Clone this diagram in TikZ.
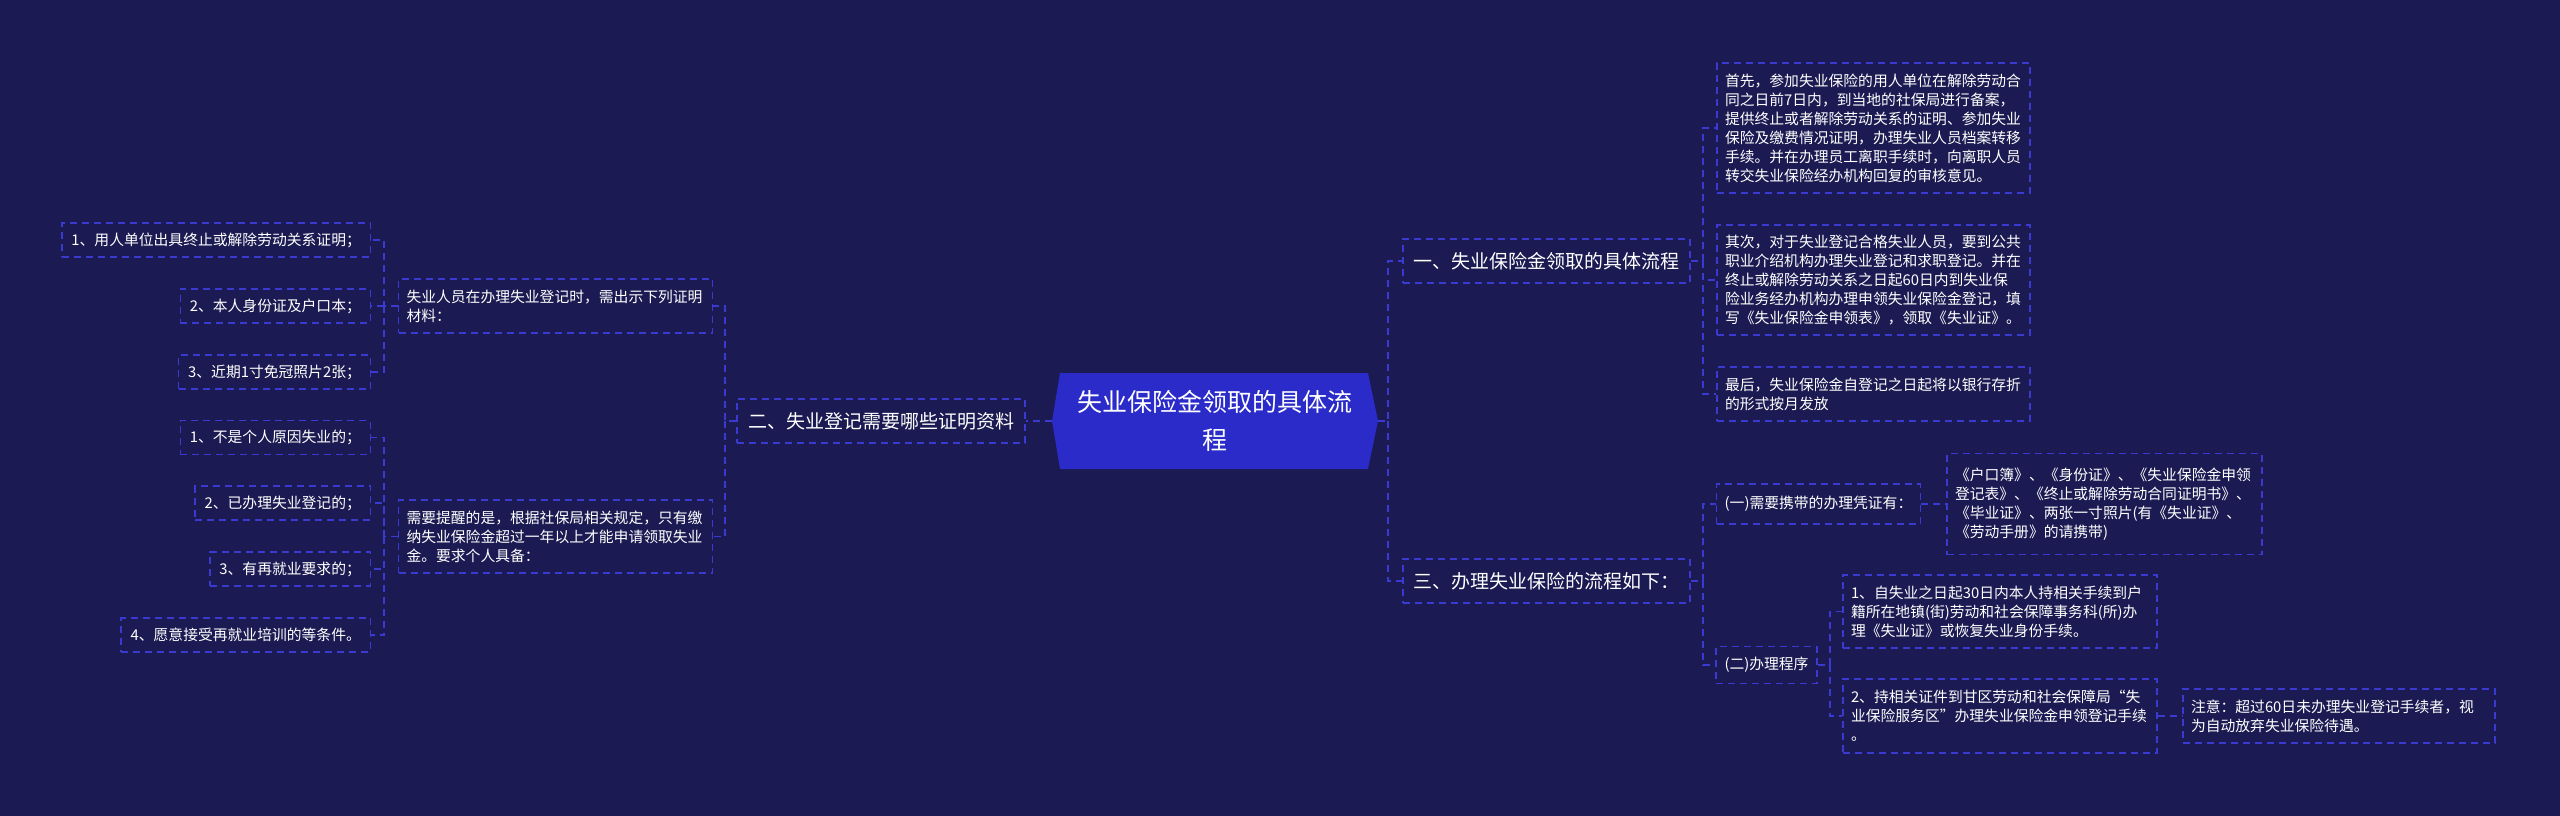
\documentclass[tikz,border=0pt]{standalone}
\usepackage{fontspec}
\setmainfont{Noto Sans CJK SC}
\definecolor{bg}{HTML}{1B1A52}
\definecolor{bord}{HTML}{3A3AD0}
\definecolor{cfill}{HTML}{2A2BC9}
\newcommand\mysmall{\fontsize{14.8pt}{19pt}\selectfont}
\newcommand\mybranch{\fontsize{19pt}{24pt}\selectfont}
\newcommand\mytitle{\fontsize{25pt}{38pt}\selectfont}
\tikzset{
  box/.style={draw=bord, dash pattern=on 7pt off 5pt, line width=1.3pt, text=white, font=\mysmall, inner xsep=8pt, inner ysep=2pt},
  mbox/.style={box, text width=#1, align=left},
  leaf/.style={box, anchor=east, minimum height=34pt, inner xsep=9.5pt},
  br/.style={box, font=\mybranch, minimum width=287pt, minimum height=44pt},
  con/.style={draw=bord, dash pattern=on 7pt off 5pt, line width=1.3pt}
}
\begin{document}
\begin{tikzpicture}[x=1pt,y=-1pt]
\fill[bg] (0,0) rectangle (2560,816);
\useasboundingbox (0,0) rectangle (2560,816);
% central node
\fill[cfill] (1060,373) -- (1368,373) -- (1378,421) -- (1368,469) -- (1060,469) -- (1052,421) -- cycle;
\node[text=white, font=\mytitle, align=center, minimum width=326pt, minimum height=96pt, inner sep=0pt] (c) at (1215,421) {失业保险金领取的具体流\\程};
% branches
\node[br] (b1) at (1546.5,261) {一、失业保险金领取的具体流程};
\node[br] (b3) at (1546.5,581) {三、办理失业保险的流程如下：};
\node[br, minimum width=288pt] (b2) at (881,421) {二、失业登记需要哪些证明资料};
% right children of b1
\node[mbox=297pt, minimum height=130pt] (r1) at (1873.5,128) {首先，参加失业保险的用人单位在解除劳动合\\同之日前7日内，到当地的社保局进行备案，\\提供终止或者解除劳动关系的证明、参加失业\\保险及缴费情况证明，办理失业人员档案转移\\手续。并在办理员工离职手续时，向离职人员\\转交失业保险经办机构回复的审核意见。};
\node[mbox=297pt, minimum height=110pt] (r2) at (1873.5,280) {其次，对于失业登记合格失业人员，要到公共\\职业介绍机构办理失业登记和求职登记。并在\\终止或解除劳动关系之日起60日内到失业保\\险业务经办机构办理申领失业保险金登记，填\\写《失业保险金申领表》，领取《失业证》。};
\node[mbox=297pt, minimum height=54pt] (r3) at (1873.5,394) {最后，失业保险金自登记之日起将以银行存折\\的形式按月发放};
% children of b3
\node[box, minimum width=203pt, minimum height=40pt] (s1) at (1818.5,504) {(一)需要携带的办理凭证有：};
\node[mbox=299pt, minimum height=101pt] (s1c) at (2104.5,504) {《户口簿》、《身份证》、《失业保险金申领\\登记表》、《终止或解除劳动合同证明书》、\\《毕业证》、两张一寸照片(有《失业证》、\\《劳动手册》的请携带)};
\node[box, minimum width=101pt, minimum height=37pt] (s2) at (1766.5,665) {(二)办理程序};
\node[mbox=298pt, minimum height=73pt] (p1) at (2000,611.5) {1、自失业之日起30日内本人持相关手续到户\\籍所在地镇(街)劳动和社会保障事务科(所)办\\理《失业证》或恢复失业身份手续。};
\node[mbox=298pt, minimum height=74pt] (p2) at (2000,716) {2、持相关证件到甘区劳动和社会保障局“失\\业保险服务区”办理失业保险金申领登记手续\\。};
\node[mbox=296pt, minimum height=54pt] (note) at (2339,716) {注意：超过60日未办理失业登记手续者，视\\为自动放弃失业保险待遇。};
% left children of b2
\node[mbox=298pt, minimum height=54pt] (A) at (555.5,306) {失业人员在办理失业登记时，需出示下列证明\\材料：};
\node[mbox=298pt, minimum height=73pt] (B) at (555.5,536.5) {需要提醒的是，根据社保局相关规定，只有缴\\纳失业保险金超过一年以上才能申请领取失业\\金。要求个人具备：};
\node[leaf] (L1) at (371,240) {1、用人单位出具终止或解除劳动关系证明；};
\node[leaf] (L2) at (371,306) {2、本人身份证及户口本；};
\node[leaf] (L3) at (371,372) {3、近期1寸免冠照片2张；};
\node[leaf] (M1) at (371,437.5) {1、不是个人原因失业的；};
\node[leaf] (M2) at (371,503) {2、已办理失业登记的；};
\node[leaf] (M3) at (371,569) {3、有再就业要求的；};
\node[leaf] (M4) at (371,635) {4、愿意接受再就业培训的等条件。};
% trunk coordinates
\coordinate (tR) at (1388,0);
\coordinate (t1) at (1703,0);
\coordinate (t4) at (1830,0);
\coordinate (t2) at (725,0);
\coordinate (t3) at (384,0);
% connectors
\draw[con] (c.east) -- (tR |- c.east) |- (b1.west);
\draw[con] (tR |- c.east) |- (b3.west);
\draw[con] (c.west) -- (b2.east);
\draw[con] (b1.east) -- (t1 |- b1.east) |- (r1.west);
\draw[con] (t1 |- b1.east) |- (r2.west);
\draw[con] (t1 |- b1.east) |- (r3.west);
\draw[con] (b3.east) -- (t1 |- b3.east) |- (s1.west);
\draw[con] (t1 |- b3.east) |- (s2.west);
\draw[con] (s1.east) -- (s1c.west);
\draw[con] (s2.east) -- (t4 |- s2.east) |- (p1.west);
\draw[con] (t4 |- s2.east) |- (p2.west);
\draw[con] (p2.east) -- (note.west);
\draw[con] (b2.west) -- (t2 |- b2.west) |- (A.east);
\draw[con] (t2 |- b2.west) |- (B.east);
\draw[con] (A.west) -- (t3 |- A.west) |- (L1.east);
\draw[con] (t3 |- A.west) |- (L2.east);
\draw[con] (t3 |- A.west) |- (L3.east);
\draw[con] (B.west) -- (t3 |- B.west) |- (M1.east);
\draw[con] (t3 |- B.west) |- (M2.east);
\draw[con] (t3 |- B.west) |- (M3.east);
\draw[con] (t3 |- B.west) |- (M4.east);
\end{tikzpicture}
\end{document}
